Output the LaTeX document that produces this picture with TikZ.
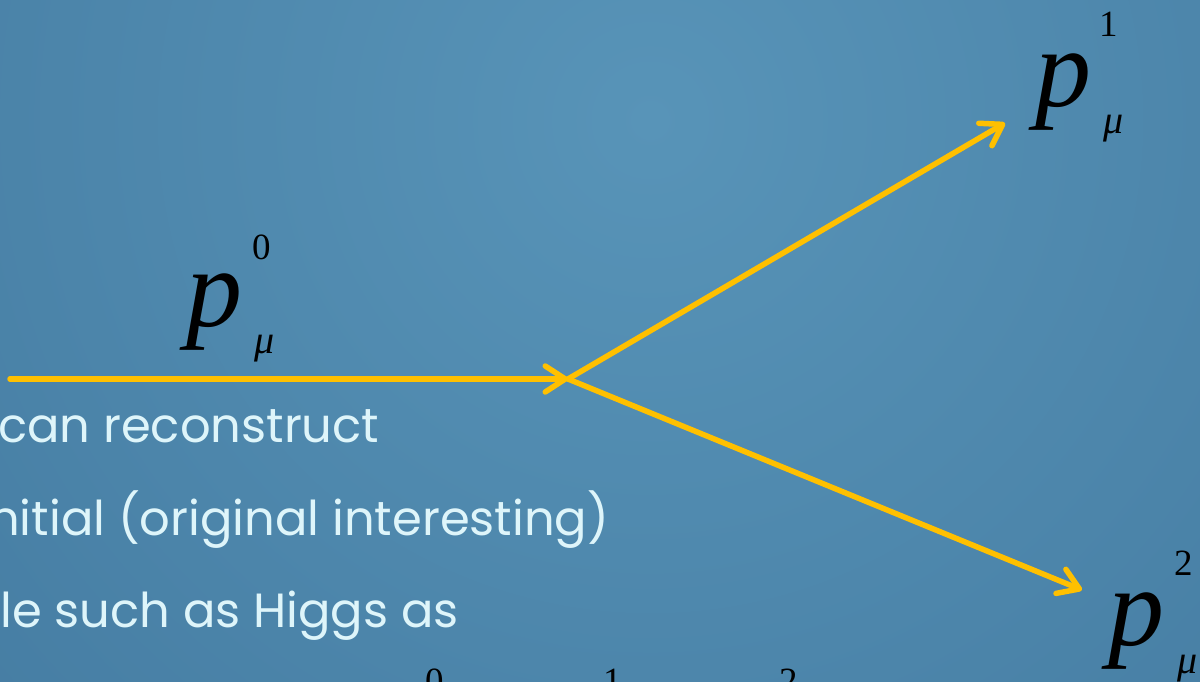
\documentclass[tikz,border=0pt]{standalone}
\usepackage{fontspec}
\setmainfont{Liberation Serif}
\newfontfamily\bodyfont{Poppins}
\newfontfamily\tnr{Liberation Serif}
\usetikzlibrary{arrows.meta}
\definecolor{bgin}{RGB}{88,148,184}
\definecolor{bgmid}{RGB}{68,123,161}
\definecolor{bgout}{RGB}{42,92,132}
\definecolor{arrowc}{RGB}{255,192,0}
\definecolor{txtc}{RGB}{222,245,250}
\pgfdeclareradialshading{bgshade}{\pgfpoint{0bp}{0bp}}{color(0bp)=(bgin); color(28bp)=(bgmid); color(50bp)=(bgout)}
\tikzset{
  body/.style={font=\bodyfont\fontsize{48}{56}\selectfont, text=txtc, inner sep=0pt, anchor=base west},
  pbig/.style={font=\tnr\itshape\fontsize{112}{120}\selectfont, text=black, inner sep=0pt, anchor=base west},
  idx/.style={font=\tnr\fontsize{37}{40}\selectfont, text=black, inner sep=0pt, anchor=base west},
  mu/.style={font=\tnr\itshape\fontsize{40}{44}\selectfont, text=black, inner sep=0pt, anchor=base west},
  flow/.style={draw=arrowc, line width=5.5pt, line cap=round, line join=round,
    -{Straight Barb[length=20pt,width=26pt,line cap=round,line join=round]}}
}
\begin{document}
\begin{tikzpicture}[x=1pt,y=1pt]
\useasboundingbox (0,0) rectangle (1200,681);
\clip (0,0) rectangle (1200,681);
\fill[shading=bgshade] (650,561) circle (880);
% body text
\node[body] (l1) at (-2,238) {can reconstruct};
\node[body] (l2) at (-11,146) {nitial (original interesting)};
\node[body] (l3) at (0,54) {le such as Higgs as};
% bottom superscripts (cut off)
\node[idx] (b0) at (425,-12) {0};
\node[idx] (b1) at (603,-12) {1};
\node[idx] (b2) at (779,-12) {2};
% p0
\node[pbig] (p0) at (186,354) {p};
\node[idx] (p0s) at (252,421) {0};
\node[mu] (p0m) at (254,327) {μ};
% p1
\node[pbig] (p1) at (1035,574) {p};
\node[idx] (p1s) at (1099,644) {1};
\node[mu] (p1m) at (1103,547) {μ};
% p2
\node[pbig] (p2) at (1108,36) {p};
\node[idx] (p2s) at (1174,106) {2};
\node[mu] (p2m) at (1177,8) {μ};
% arrows
\coordinate (s) at (10,302);
\coordinate (v) at (568,302);
\coordinate (e1) at (1005,558);
\coordinate (e2) at (1082,91);
\draw[flow] (s) -- (v);
\draw[flow] (v) -- (e1);
\draw[flow] (v) -- (e2);
\end{tikzpicture}
\end{document}
